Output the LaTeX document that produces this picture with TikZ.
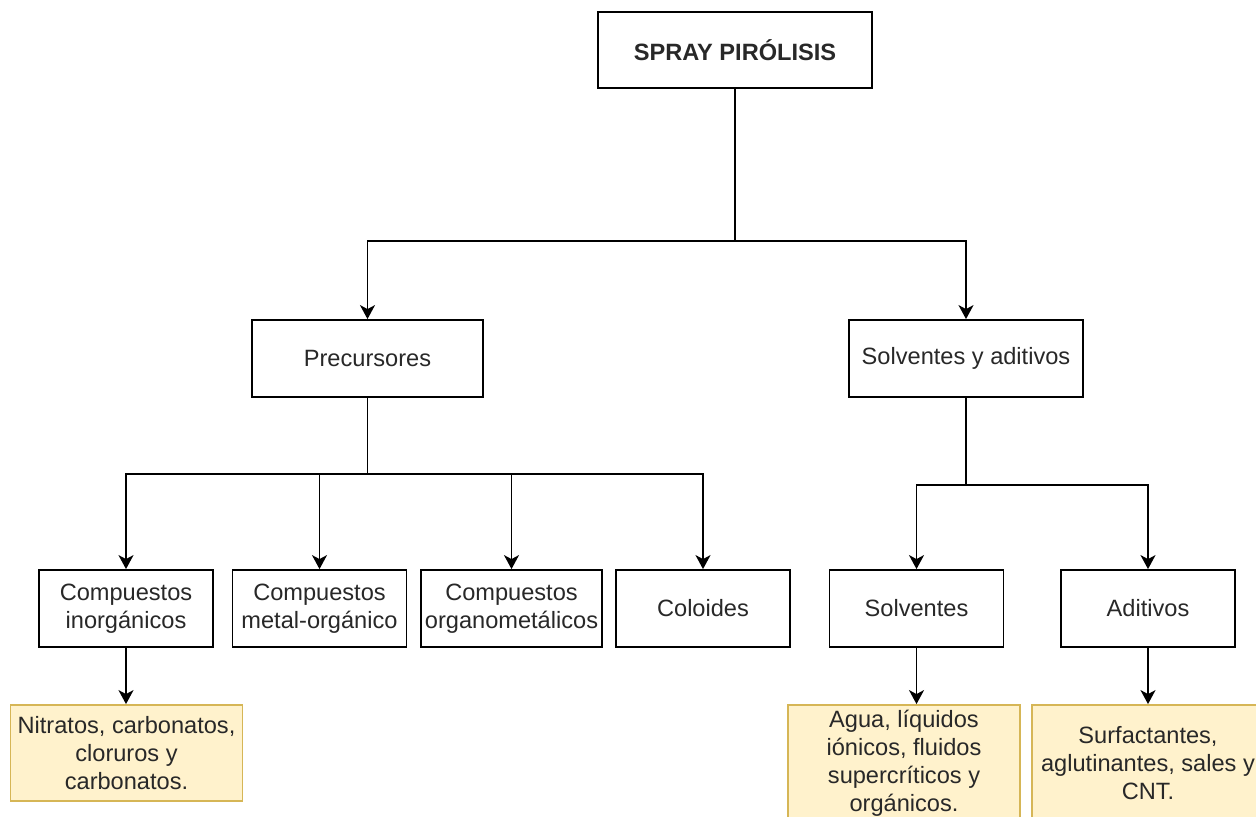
\documentclass[tikz,border=0pt]{standalone}
\usepackage{fontspec}
\setmainfont{Liberation Sans}
\usetikzlibrary{arrows.meta, positioning}
\usepackage{xcolor}
\definecolor{leaffill}{HTML}{FFF2CC}
\definecolor{leafdraw}{HTML}{D6B656}
\definecolor{txtcolor}{RGB}{40,40,40}
\tikzset{
  box/.style     = {draw=black, line width=0.9pt, fill=white, align=center,
                    text=txtcolor, inner sep=2pt,
                    font=\fontsize{11.8}{14}\selectfont},
  leafbox/.style = {draw=leafdraw, line width=0.9pt, fill=leaffill, align=center,
                    text=txtcolor, inner sep=2pt, minimum width=116pt,
                    font=\fontsize{11.8}{14}\selectfont},
  arrow/.style   = {-{Stealth[length=7pt,width=7.5pt,inset=2pt]}, line width=0.9pt},
  line/.style    = {line width=0.9pt},
}

\begin{document}
\begin{tikzpicture}[x=0.5pt, y=-0.5pt]
  \useasboundingbox (0,0) rectangle (1256,817);
  \clip (0,0) rectangle (1256,817);
  % nodes
  \node[box, minimum width=137pt, minimum height=38pt, font=\fontsize{11.8}{14}\selectfont\bfseries]
    (spray) at (735,50) {SPRAY PIRÓLISIS};
  \node[box, minimum width=115.5pt, minimum height=38.5pt] (prec) at (367.5,358.5) {Precursores};
  \node[box, minimum width=117pt, minimum height=38.5pt] (solad) at (966,358.5) {Solventes y aditivos};
  \foreach \i/\x/\t in {inorg/126/{Compuestos\\inorgánicos},
                        metal/319.5/{Compuestos\\metal-orgánico},
                        organo/511.5/{Compuestos\\organometálicos},
                        coloid/703/{Coloides},
                        solv/916.5/{Solventes},
                        adit/1148/{Aditivos}} {
    \node[box, minimum width=87pt, minimum height=38.5pt] (\i) at (\x,608.5) {\t};
  }
  \node[leafbox, minimum height=48pt] (nitr) at (126.5,753)
    {Nitratos, carbonatos,\\cloruros y\\carbonatos.};
  \node[leafbox, minimum height=58pt] (agua) at (904,763)
    {Agua, líquidos\\iónicos, fluidos\\supercríticos y\\orgánicos.};
  \node[leafbox, minimum height=58pt] (surf) at (1148,763)
    {Surfactantes,\\aglutinantes, sales y\\CNT.};

  % junctions
  \coordinate (j1) at (735,241);
  \coordinate (j2) at (367.5,474);
  \coordinate (j3) at (966,485);

  % connectors
  \draw[line] (spray.south) -- (j1);
  \draw[arrow] (j1) -| (prec.north);
  \draw[arrow] (j1) -| (solad.north);
  \draw[line] (prec.south) -- (j2);
  \foreach \nd in {inorg,metal,organo,coloid} {
    \draw[arrow] (j2) -| (\nd.north);
  }
  \draw[line] (solad.south) -- (j3);
  \foreach \nd in {solv,adit} {
    \draw[arrow] (j3) -| (\nd.north);
  }
  \draw[arrow] (inorg.south) -- (nitr.north -| inorg.south);
  \draw[arrow] (solv.south) -- (agua.north -| solv.south);
  \draw[arrow] (adit.south) -- (surf.north);
\end{tikzpicture}
\end{document}
